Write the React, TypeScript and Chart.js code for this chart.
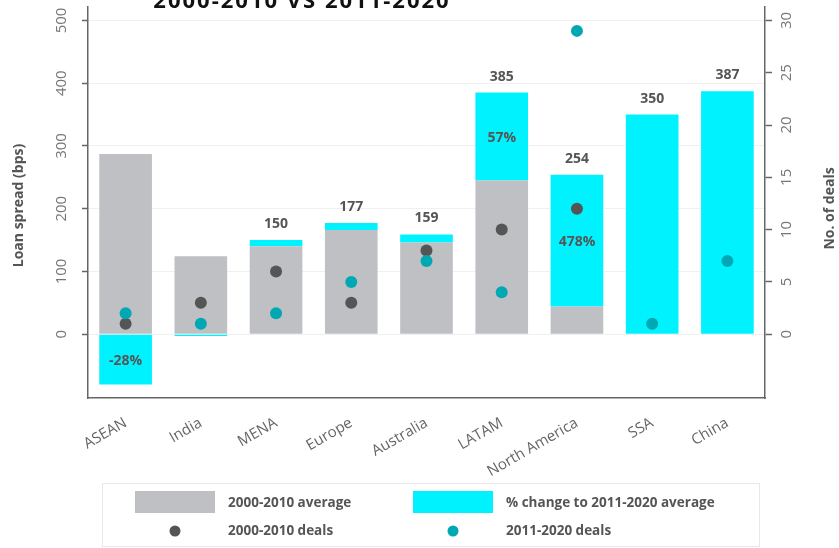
import React, { useEffect, useRef } from 'react';
import { Chart, registerables } from 'chart.js';

Chart.register(...registerables);

// ---- data ----
const categories = ['ASEAN', 'India', 'MENA', 'Europe', 'Australia', 'LATAM', 'North America', 'SSA', 'China'];
const avg2000to2010 = [287, 124, 140, 166, 146, 245, 44, 0, 0];
const changeTo2011to2020 = [-80, -3, 10, 11, 13, 140, 210, 350, 387];
const totalLabels = [null, null, '150', '177', '159', '385', '254', '350', '387'];
const pctLabels = ['-28%', null, null, null, null, '57%', '478%', null, null];
const deals2000to2010 = [1, 3, 6, 3, 8, 10, 12, null, null];
const deals2011to2020 = [2, 1, 2, 5, 7, 4, 29, 1, 7];
const leftTicks = [0, 100, 200, 300, 400, 500];
const rightTicks = [0, 5, 10, 15, 20, 25, 30];
const leftRange = [-101.7, 521.4];
const bpsPerDeal = 16.667;
const titleText = '2000-2010 VS 2011-2020';
const leftTitle = 'Loan spread (bps)';
const rightTitle = 'No. of deals';
const legendLabels = ['2000-2010 average', '% change to 2011-2020 average', '2000-2010 deals', '2011-2020 deals'];

const GRAY = '#bfc0c4';
const CYAN = '#00f2ff';
const DARK = '#555555';
const TEAL = '#00a8b4';
const AXIS = '#666666';
const TEXT = '#555555';

const overlay = {
  id: 'overlay',
  afterDatasetsDraw(chart: any) {
    const ctx = chart.ctx;
    const meta = chart.getDatasetMeta(1);
    const metaG = chart.getDatasetMeta(0);
    ctx.save();
    ctx.fillStyle = TEXT;
    ctx.font = 'bold 14px "Open Sans"';
    ctx.textAlign = 'center';
    ctx.textBaseline = 'middle';
    categories.forEach((_, i) => {
      const el = meta.data[i];
      const g = metaG.data[i];
      const top = Math.min(el.y, el.base, g.y);
      if (totalLabels[i]) ctx.fillText(totalLabels[i], el.x, top - 16);
      if (pctLabels[i]) ctx.fillText(pctLabels[i], el.x, (el.y + el.base) / 2 + 1);
    });
    ctx.restore();
  },
  afterDraw(chart: any) {
    const ctx = chart.ctx;
    const area = chart.chartArea;
    const midY = (area.top + area.bottom) / 2;
    ctx.save();
    // title (partially cut at top)
    ctx.fillStyle = '#111';
    ctx.font = 'bold 22px "Open Sans"';
    (ctx as any).letterSpacing = '2px';
    ctx.textAlign = 'center';
    ctx.textBaseline = 'alphabetic';
    ctx.fillText(titleText, 302, 8);
    (ctx as any).letterSpacing = '0px';

    // axis titles
    ctx.fillStyle = TEXT;
    ctx.font = 'bold 14px "Open Sans"';
    ctx.textBaseline = 'middle';
    ctx.save();
    ctx.translate(19, midY + 3);
    ctx.rotate(-Math.PI / 2);
    ctx.fillText(leftTitle, 0, 0);
    ctx.restore();
    ctx.save();
    ctx.translate(830, midY + 6);
    ctx.rotate(-Math.PI / 2);
    ctx.fillText(rightTitle, 0, 0);
    ctx.restore();

    // legend
    ctx.strokeStyle = '#e8e8e8';
    ctx.lineWidth = 1;
    ctx.strokeRect(102.5, 483.5, 657, 63);
    const ds = chart.data.datasets;
    ctx.fillStyle = ds[0].backgroundColor;
    ctx.fillRect(135, 491, 80, 22);
    ctx.fillStyle = ds[1].backgroundColor;
    ctx.fillRect(413, 491, 80, 22);
    ctx.fillStyle = ds[2].pointBackgroundColor;
    ctx.beginPath(); ctx.arc(175, 531, 5.5, 0, Math.PI * 2); ctx.fill();
    ctx.fillStyle = ds[3].pointBackgroundColor;
    ctx.beginPath(); ctx.arc(453, 531, 5.5, 0, Math.PI * 2); ctx.fill();
    ctx.fillStyle = TEXT;
    ctx.font = 'bold 13.5px "Open Sans"';
    ctx.textAlign = 'left';
    ctx.textBaseline = 'middle';
    ctx.fillText(legendLabels[0], 228, 503);
    ctx.fillText(legendLabels[1], 506, 503);
    ctx.fillText(legendLabels[2], 228, 531);
    ctx.fillText(legendLabels[3], 506, 531);
    ctx.restore();
  },
};

export default function App() {
  const ref = useRef<HTMLCanvasElement>(null);
  useEffect(() => {
    document.body.style.margin = '0';
    const tickFont = { family: '"Open Sans"', size: 15 };
    const chart = new Chart(ref.current as HTMLCanvasElement, {
      type: 'bar',
      data: {
        labels: categories,
        datasets: [
          { type: 'bar', label: legendLabels[0], data: avg2000to2010, backgroundColor: GRAY, stack: 's', yAxisID: 'y', barPercentage: 0.7, categoryPercentage: 1, order: 2 } as any,
          { type: 'bar', label: legendLabels[1], data: changeTo2011to2020, backgroundColor: CYAN, stack: 's', yAxisID: 'y', barPercentage: 0.7, categoryPercentage: 1, order: 2 } as any,
          { type: 'line', label: legendLabels[2], data: deals2000to2010, yAxisID: 'y1', showLine: false, pointRadius: 6, pointBorderWidth: 0, pointBackgroundColor: DARK, pointBorderColor: DARK, backgroundColor: DARK, order: 1 } as any,
          { type: 'line', label: legendLabels[3], data: deals2011to2020, yAxisID: 'y1', showLine: false, pointRadius: 6, pointBorderWidth: 0, pointBackgroundColor: TEAL, pointBorderColor: TEAL, backgroundColor: TEAL, order: 0 } as any,
        ],
      },
      options: {
        responsive: false,
        animation: false,
        devicePixelRatio: 1,
        layout: { padding: { top: 7, left: 0, right: 0, bottom: 0 } },
        plugins: { legend: { display: false }, tooltip: { enabled: false } },
        scales: {
          x: {
            stacked: true,
            grid: { display: false },
            border: { display: true, color: AXIS, width: 1.5 },
            ticks: { minRotation: 30, maxRotation: 30, font: tickFont, color: '#666', padding: 8 },
            afterFit: (s: any) => { s.height = 150; s.paddingLeft = 0; s.paddingRight = 0; },
          },
          y: {
            type: 'linear',
            position: 'left',
            stacked: true,
            min: leftRange[0],
            max: leftRange[1],
            afterBuildTicks: (s: any) => { s.ticks = leftTicks.map((v) => ({ value: v })); },
            grid: { color: '#f0f0f0', lineWidth: 1, tickColor: AXIS, tickLength: 6, tickWidth: 1.5 },
            border: { display: true, color: AXIS, width: 1.5 },
            ticks: { font: tickFont, color: '#777', minRotation: 90, maxRotation: 90, crossAlign: 'center', padding: 7 },
            afterFit: (s: any) => { s.width = 88; s.paddingTop = 0; s.paddingBottom = 0; },
          },
          y1: {
            type: 'linear',
            position: 'right',
            min: leftRange[0] / bpsPerDeal,
            max: leftRange[1] / bpsPerDeal,
            afterBuildTicks: (s: any) => { s.ticks = rightTicks.map((v) => ({ value: v })); },
            grid: { drawOnChartArea: false, tickColor: AXIS, tickLength: 7, tickWidth: 1.5 },
            border: { display: true, color: AXIS, width: 1.5 },
            ticks: { font: tickFont, color: '#777', minRotation: 90, maxRotation: 90, crossAlign: 'center', padding: 6 },
            afterFit: (s: any) => { s.width = 74; s.paddingTop = 0; s.paddingBottom = 0; },
          },
        },
      } as any,
      plugins: [overlay],
    });
    return () => chart.destroy();
  }, []);
  return <canvas ref={ref} width={839} height={548} style={{ display: 'block' }} />;
}
